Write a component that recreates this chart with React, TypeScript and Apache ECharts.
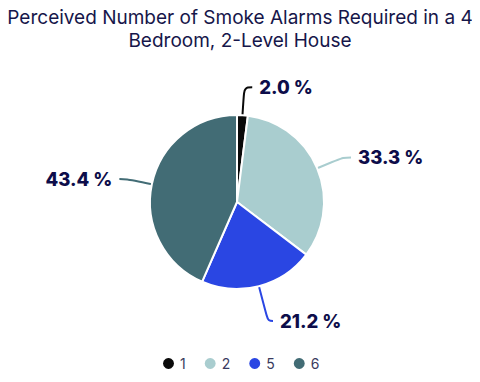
import React, { useEffect, useRef } from "react";
import * as echarts from "echarts";

const categories = ["1", "2", "5", "6"];
const values = [2.0, 33.3, 21.2, 43.4];
const colors = ["#0a0a0a", "#a9cdcf", "#2a46e3", "#426c75"];

export default function App() {
  const ref = useRef<HTMLDivElement>(null);
  useEffect(() => {
    const chart = echarts.init(ref.current!, undefined, { renderer: "svg" });
    const itemExtras: Record<string, any> = {
      "5": { labelLine: { length: 36, length2: 5 } },
      "6": { labelLine: { length: 25 }, label: { padding: [7, 0, 0, 0] } },
    };
    chart.setOption({
      animation: false,
      color: colors,
      title: {
        text: "Perceived Number of Smoke Alarms Required in a 4\nBedroom, 2-Level House",
        left: "center",
        top: 6,
        padding: 0,
        textStyle: {
          fontFamily: "Inter",
          fontSize: 19,
          fontWeight: "normal",
          color: "#16164a",
          lineHeight: 23,
        },
      },
      legend: {
        top: 351,
        left: 156,
        icon: "circle",
        itemWidth: 13,
        itemHeight: 13,
        itemGap: 17,
        textStyle: { fontFamily: "Inter", fontSize: 14, color: "#3a3a5e" },
        data: categories,
      },
      series: [
        {
          type: "pie",
          center: [237, 202],
          radius: 87,
          startAngle: 90,
          clockwise: true,
          data: categories.map((c, i) => ({
            name: c,
            value: values[i],
            ...(itemExtras[c] || {}),
          })),
          itemStyle: { borderColor: "#ffffff", borderWidth: 2 },
          label: {
            formatter: (p: any) => p.value.toFixed(1) + " %",
            fontFamily: "Inter",
            fontWeight: 800,
            fontSize: 18.5,
            color: "#0d0d4a",
            distanceToLabelLine: 7,
          },
          labelLine: { length: 28, length2: 8, smooth: 0.4, lineStyle: { width: 2 } },
        },
      ],
    });
    return () => chart.dispose();
  }, []);
  return <div ref={ref} style={{ width: 480, height: 382, margin: -8 }} />;
}
